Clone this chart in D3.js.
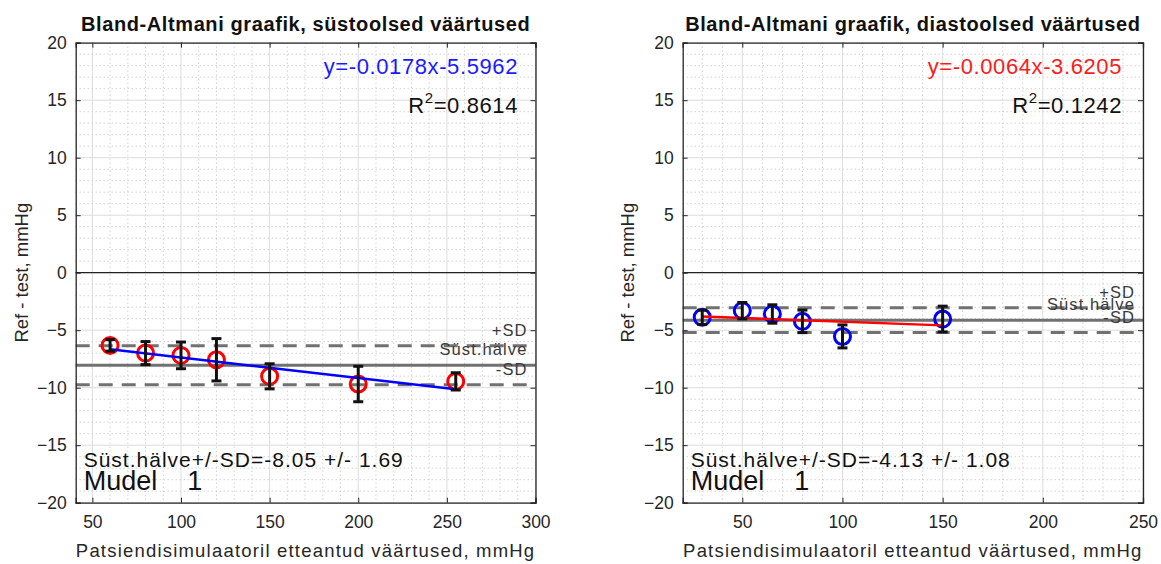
<!DOCTYPE html>
<html>
<head>
<meta charset="utf-8">
<script src="https://cdn.jsdelivr.net/npm/d3@7"></script>
<style>
  body { margin: 0; background: #fff; }
  svg { display: block; font-family: "Liberation Sans", Arial, sans-serif; }
</style>
</head>
<body>
<div class="chart"></div>
<script>
// Data
var sysX = [60, 80, 100, 120, 150, 200, 255];
var sysDiff = [-6.32, -6.99, -7.19, -7.57, -9.01, -9.68, -9.45];
var sysErr = [0.5, 1.0, 1.16, 1.84, 1.09, 1.54, 0.75];
var sysFit = [-0.0178, -5.5962];
var sysR2 = "0.8614";
var sysMean = -8.05, sysSD = 1.69;

var diaX = [30, 50, 65, 80, 100, 150];
var diaDiff = [-3.88, -3.30, -3.59, -4.23, -5.54, -4.03];
var diaErr = [0.62, 0.71, 0.8, 0.98, 1.0, 1.12];
var diaFit = [-0.0064, -3.6205];
var diaR2 = "0.1242";
var diaMean = -4.13, diaSD = 1.08;

var yTicks = [-20, -15, -10, -5, 0, 5, 10, 15, 20];
var sysXTicks = [50, 100, 150, 200, 250, 300];
var diaXTicks = [50, 100, 150, 200, 250];

var width = 1161, height = 564;

var svg = d3.select(".chart").append("svg")
    .attr("width", width)
    .attr("height", height);

function fmt(v) {
  return v.toFixed(4);
}

function drawPanel(p) {
  var x = d3.scaleLinear().domain(p.xDomain).range([p.left, p.right]);
  var y = d3.scaleLinear().domain([-20, 20]).range([502.7, 42.7]);
  var g = svg.append("g");

  // minor grid
  var xMinor = d3.range(Math.ceil(p.xDomain[0] / 10) * 10, p.xDomain[1], 10)
      .filter(function(v) { return v % 50 !== 0; });
  var yMinor = d3.range(-19, 20, 1).filter(function(v) { return v % 5 !== 0; });
  g.selectAll(".mx").data(xMinor).enter().append("line")
    .attr("x1", d => x(d)).attr("x2", d => x(d))
    .attr("y1", y(20)).attr("y2", y(-20))
    .attr("stroke", "#bdbdbd").attr("stroke-width", 1)
    .attr("stroke-dasharray", "1,3");
  g.selectAll(".my").data(yMinor).enter().append("line")
    .attr("x1", p.left).attr("x2", p.right)
    .attr("y1", d => y(d)).attr("y2", d => y(d))
    .attr("stroke", "#bdbdbd").attr("stroke-width", 1)
    .attr("stroke-dasharray", "1,3");

  // major grid
  g.selectAll(".gx").data(p.xTicks).enter().append("line")
    .attr("x1", d => x(d)).attr("x2", d => x(d))
    .attr("y1", y(20)).attr("y2", y(-20))
    .attr("stroke", "#dcdcdc").attr("stroke-width", 1);
  g.selectAll(".gy").data(yTicks).enter().append("line")
    .attr("x1", p.left).attr("x2", p.right)
    .attr("y1", d => y(d)).attr("y2", d => y(d))
    .attr("stroke", "#dcdcdc").attr("stroke-width", 1);

  // zero line
  g.append("line")
    .attr("x1", p.left).attr("x2", p.right)
    .attr("y1", y(0)).attr("y2", y(0))
    .attr("stroke", "#222").attr("stroke-width", 1.2);

  // mean and SD lines
  var lev = [
    {v: p.mean + p.sd, dash: "14,9", label: "+SD"},
    {v: p.mean, dash: null, label: "Süst.hälve"},
    {v: p.mean - p.sd, dash: "14,9", label: "-SD"}
  ];
  g.selectAll(".lev").data(lev).enter().append("line")
    .attr("x1", p.left).attr("x2", p.right)
    .attr("y1", d => y(d.v)).attr("y2", d => y(d.v))
    .attr("stroke", "#717171").attr("stroke-width", 3)
    .attr("stroke-dasharray", d => d.dash);
  g.selectAll(".levt").data(lev).enter().append("text")
    .attr("x", p.right - 8)
    .attr("y", d => y(d.v) - 10)
    .attr("text-anchor", "end")
    .attr("font-size", 16.5)
    .attr("letter-spacing", 1.1)
    .attr("fill", "#3a3a3a")
    .text(d => d.label);

  // points
  var pts = p.xs.map(function(v, i) { return {x: v, y: p.diff[i], e: p.err[i]}; });
  g.selectAll(".pt").data(pts).enter().append("circle")
    .attr("cx", d => x(d.x)).attr("cy", d => y(d.y))
    .attr("r", 8)
    .attr("fill", "none")
    .attr("stroke", p.markColor).attr("stroke-width", 3);

  // regression line
  var x0 = d3.min(p.xs), x1 = d3.max(p.xs);
  g.append("line")
    .attr("x1", x(x0)).attr("y1", y(p.fit[0] * x0 + p.fit[1]))
    .attr("x2", x(x1)).attr("y2", y(p.fit[0] * x1 + p.fit[1]))
    .attr("stroke", p.lineColor).attr("stroke-width", 2.5);

  // error bars
  var eb = g.selectAll(".eb").data(pts).enter().append("g");
  eb.append("line")
    .attr("x1", d => x(d.x)).attr("x2", d => x(d.x))
    .attr("y1", d => y(d.y - d.e)).attr("y2", d => y(d.y + d.e))
    .attr("stroke", "#111").attr("stroke-width", 3);
  [-1, 1].forEach(function(s) {
    eb.append("line")
      .attr("x1", d => x(d.x) - 5).attr("x2", d => x(d.x) + 5)
      .attr("y1", d => y(d.y + s * d.e)).attr("y2", d => y(d.y + s * d.e))
      .attr("stroke", "#111").attr("stroke-width", 3);
  });

  // axes box
  var xAxisB = d3.axisBottom(x).tickValues(p.xTicks).tickSize(-5).tickPadding(13);
  var xAxisT = d3.axisTop(x).tickValues(p.xTicks).tickSize(-5).tickFormat("");
  var yAxisL = d3.axisLeft(y).tickValues(yTicks).tickSize(-5).tickPadding(9);
  var yAxisR = d3.axisRight(y).tickValues(yTicks).tickSize(-5).tickFormat("");
  var axes = [
    g.append("g").attr("transform", "translate(0," + y(-20) + ")").call(xAxisB),
    g.append("g").attr("transform", "translate(0," + y(20) + ")").call(xAxisT),
    g.append("g").attr("transform", "translate(" + p.left + ",0)").call(yAxisL),
    g.append("g").attr("transform", "translate(" + p.right + ",0)").call(yAxisR)
  ];
  axes.forEach(function(a) {
    a.select(".domain").attr("stroke", "#262626").attr("stroke-width", 1.3);
    a.selectAll(".tick line").attr("stroke", "#262626");
    a.selectAll(".tick text")
      .attr("font-family", "Liberation Sans, Arial, sans-serif")
      .attr("font-size", 17.5).attr("fill", "#262626");
  });

  // title
  g.append("text")
    .attr("x", (p.left + p.right) / 2).attr("y", 31)
    .attr("text-anchor", "middle")
    .attr("font-size", 20).attr("font-weight", "bold")
    .attr("letter-spacing", 0.6)
    .attr("fill", "#111")
    .text(p.title);

  // axis labels
  g.append("text")
    .attr("x", (p.left + p.right) / 2).attr("y", 557)
    .attr("text-anchor", "middle")
    .attr("font-size", 18.5).attr("letter-spacing", 1.2)
    .attr("fill", "#262626")
    .text("Patsiendisimulaatoril etteantud väärtused, mmHg");
  g.append("text")
    .attr("transform", "translate(" + p.yLabelX + "," + y(0) + ") rotate(-90)")
    .attr("text-anchor", "middle")
    .attr("font-size", 18.5).attr("fill", "#262626")
    .text("Ref - test, mmHg");

  // fit equation and R^2
  var sign = p.fit[1] < 0 ? "" : "+";
  g.append("text")
    .attr("x", p.textRight).attr("y", 74)
    .attr("text-anchor", "end")
    .attr("font-size", 22).attr("letter-spacing", 0.6)
    .attr("fill", p.eqColor)
    .text("y=" + fmt(p.fit[0]) + "x" + sign + fmt(p.fit[1]));
  var r2 = g.append("text")
    .attr("x", p.textRight).attr("y", 113)
    .attr("text-anchor", "end")
    .attr("font-size", 22).attr("letter-spacing", 0.6)
    .attr("fill", "#111");
  r2.append("tspan").text("R");
  r2.append("tspan").attr("dy", -10).attr("font-size", 15).text("2");
  r2.append("tspan").attr("dy", 10).text("=" + p.r2);

  // bottom annotations
  g.append("text")
    .attr("x", p.left + 8).attr("y", 467)
    .attr("font-size", 21).attr("letter-spacing", 1)
    .attr("fill", "#111")
    .text("Süst.hälve+/-SD=" + p.mean.toFixed(2) + " +/- " + p.sd.toFixed(2));
  g.append("text")
    .attr("x", p.left + 8).attr("y", 490)
    .attr("font-size", 27).attr("fill", "#111")
    .style("white-space", "pre")
    .text("Mudel    1");
}

drawPanel({
  left: 75.7, right: 535.5, xDomain: [40.6, 300], xTicks: sysXTicks,
  xs: sysX, diff: sysDiff, err: sysErr, fit: sysFit, r2: sysR2,
  mean: sysMean, sd: sysSD, markColor: "#ff0000", lineColor: "#0000ff",
  eqColor: "#1a1aff", title: "Bland-Altmani graafik, süstoolsed väärtused",
  yLabelX: 28, textRight: 518
});

drawPanel({
  left: 682.7, right: 1143, xDomain: [20.25, 250], xTicks: diaXTicks,
  xs: diaX, diff: diaDiff, err: diaErr, fit: diaFit, r2: diaR2,
  mean: diaMean, sd: diaSD, markColor: "#0000ff", lineColor: "#ff0000",
  eqColor: "#ff1a1a", title: "Bland-Altmani graafik, diastoolsed väärtused",
  yLabelX: 634, textRight: 1122
});
</script>
</body>
</html>
